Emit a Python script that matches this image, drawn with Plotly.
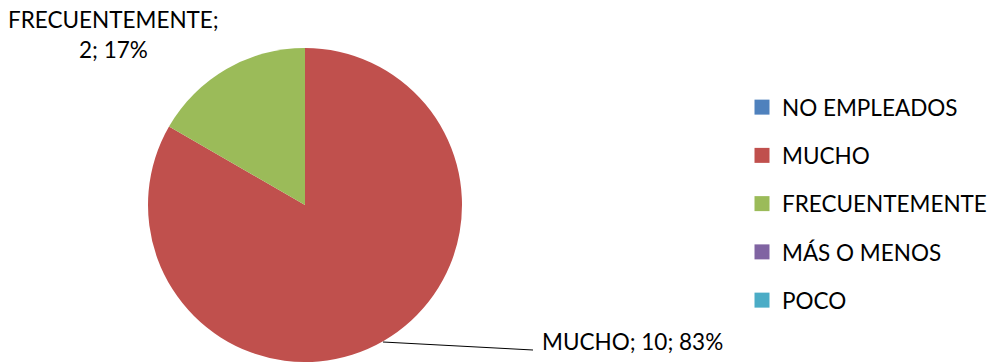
import plotly.graph_objects as go

labels = ["NO EMPLEADOS", "MUCHO", "FRECUENTEMENTE", "MÁS O MENOS", "POCO"]
values = [0, 10, 2, 0, 0]
colors = ["#4F81BD", "#C0504D", "#9BBB59", "#8064A2", "#4BACC6"]

FONT = "Lato"
FS = 22.5
total = sum(values)
pct = [round(v * 100 / total) for v in values]

fig = go.Figure()
fig.add_trace(go.Pie(
    labels=labels, values=values, sort=False, direction="clockwise", rotation=0,
    marker=dict(colors=colors, line=dict(width=0)),
    textinfo="none", hoverinfo="label+value+percent", showlegend=False,
    domain=dict(x=[148 / 992, 462 / 992], y=[0.0, 314 / 362]),
))
for i, (lab, col) in enumerate(zip(labels, colors)):
    fig.add_trace(go.Scatter(
        x=[None], y=[None], mode="markers", name=lab, legendgroup=str(i),
        marker=dict(symbol="square", size=15, color=col),
    ))

# data labels
i_m = labels.index("MUCHO")
i_f = labels.index("FRECUENTEMENTE")
fig.add_annotation(x=540 / 992, y=(362 - 341) / 362, xref="paper", yref="paper",
                   xanchor="left", yanchor="middle", showarrow=False,
                   text=f"{labels[i_m]}; {values[i_m]}; {pct[i_m]}%",
                   font=dict(family=FONT, size=FS, color="#000000"))
fig.add_annotation(x=113 / 992, y=(362 - 20) / 362, xref="paper", yref="paper",
                   xanchor="center", yanchor="middle", showarrow=False,
                   text=f"{labels[i_f]};",
                   font=dict(family=FONT, size=FS, color="#000000"))
fig.add_annotation(x=113 / 992, y=(362 - 50) / 362, xref="paper", yref="paper",
                   xanchor="center", yanchor="middle", showarrow=False,
                   text=f"{values[i_f]}; {pct[i_f]}%",
                   font=dict(family=FONT, size=FS, color="#000000"))
fig.add_shape(type="line", xref="paper", yref="paper",
              x0=383 / 992, y0=(362 - 342) / 362, x1=533 / 992, y1=(362 - 350) / 362,
              line=dict(color="#000000", width=1))

fig.update_layout(
    width=992, height=362, margin=dict(l=0, r=0, t=0, b=0),
    paper_bgcolor="white", plot_bgcolor="white",
    xaxis=dict(visible=False), yaxis=dict(visible=False),
    font=dict(family=FONT, size=FS, color="#000000"),
    legend=dict(x=0.748, xanchor="left", y=(362 - 204) / 362, yanchor="middle",
                tracegroupgap=16, font=dict(family=FONT, size=FS),
                itemsizing="trace", bgcolor="rgba(0,0,0,0)"),
)
fig.write_html("out.html")
